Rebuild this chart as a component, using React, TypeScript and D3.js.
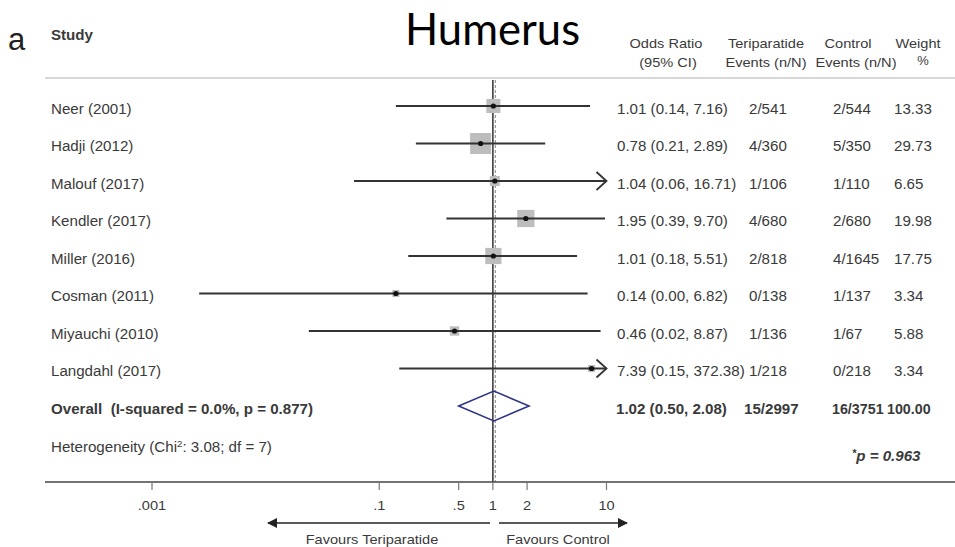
import React from "react";
import * as d3 from "d3";

// ---- data ----
const studies = [
  "Neer (2001)",
  "Hadji (2012)",
  "Malouf (2017)",
  "Kendler (2017)",
  "Miller (2016)",
  "Cosman (2011)",
  "Miyauchi (2010)",
  "Langdahl (2017)",
];
const oddsRatios = [1.01, 0.78, 1.04, 1.95, 1.01, 0.14, 0.46, 7.39];
const ciLower = [0.14, 0.21, 0.06, 0.39, 0.18, 0.0026, 0.024, 0.15];
const ciUpper = [7.16, 2.89, 16.71, 9.7, 5.51, 6.82, 8.87, 372.38];
const teriparatideEvents = ["2/541", "4/360", "1/106", "4/680", "2/818", "0/138", "1/136", "1/218"];
const controlEvents = ["2/544", "5/350", "1/110", "2/680", "4/1645", "1/137", "1/67", "0/218"];
const weights = [13.33, 29.73, 6.65, 19.98, 17.75, 3.34, 5.88, 3.34];

const overallOR = 1.02;
const overallLower = 0.5;
const overallUpper = 2.08;
const overallTeriparatide = "15/2997";
const overallControl = "16/3751";
const overallWeight = 100;

const tickValues = [0.001, 0.1, 0.5, 1, 2, 10];
const tickLabels = [".001", ".1", ".5", "1", "2", "10"];

// ---- layout ----
const W = 955;
const H = 547;
const SX = 1.08; // horizontal stretch applied to table text
const FONT = "'Liberation Sans', Arial, sans-serif";
const TEXT = "#3a3a3a";

const x = d3.scaleLog().domain([0.001, 10]).range([152, 606.5]);
const rowY = d3.scaleLinear().domain([0, 1]).range([106, 143.5]);

const fmt = (v: number) => v.toFixed(2);

type TProps = {
  x: number;
  y: number;
  children: React.ReactNode;
  size?: number;
  weight?: string | number;
  anchor?: "start" | "middle" | "end";
  italic?: boolean;
  fill?: string;
  sx?: number;
};

function T({ x, y, children, size = 14, weight = "normal", anchor = "start", italic, fill = TEXT, sx = SX }: TProps) {
  return (
    <text
      transform={`translate(${x},${y}) scale(${sx},1)`}
      fontFamily={FONT}
      fontSize={size}
      fontWeight={weight}
      fontStyle={italic ? "italic" : "normal"}
      textAnchor={anchor}
      fill={fill}
      style={{ whiteSpace: "pre" }}
    >
      {children}
    </text>
  );
}

export default function App() {
  const xMin = x.domain()[0];
  const xMax = x.domain()[1];
  const boxSide = (w: number) => 3.85 * Math.sqrt(w);
  const axisY = 482;
  const arrowY = 523;
  const overallY = rowY(8);

  return (
    <svg
      width={W}
      height={H}
      viewBox={`0 0 ${W} ${H}`}
      style={{ position: "absolute", left: 0, top: 0, background: "#fff" }}
    >
      <defs>
        <marker id="favHead" viewBox="0 0 10 10" refX="9" refY="5" markerWidth="10" markerHeight="10" markerUnits="userSpaceOnUse" orient="auto">
          <path d="M0,0 L10,5 L0,10 Z" fill="#222" />
        </marker>
      </defs>

      {/* panel letter and title */}
      <text x={8} y={50} fontFamily={FONT} fontSize={31} fill="#222">a</text>
      <text x={405} y={45} fontFamily="Lato, 'Open Sans', sans-serif" fontSize={45} fill="#000" textLength={175} lengthAdjust="spacingAndGlyphs">
        Humerus
      </text>

      {/* column headers */}
      <T x={51} y={40} weight="bold" size={14}>Study</T>
      <T x={666} y={48} anchor="middle" size={13.5}>Odds Ratio</T>
      <T x={668} y={67} anchor="middle" size={13.5}>(95% CI)</T>
      <T x={766} y={48} anchor="middle" size={13.5}>Teriparatide</T>
      <T x={766} y={67} anchor="middle" size={13.5}>Events (n/N)</T>
      <T x={848} y={48} anchor="middle" size={13.5}>Control</T>
      <T x={856} y={67} anchor="middle" size={13.5}>Events (n/N)</T>
      <T x={918} y={48} anchor="middle" size={13.5}>Weight</T>
      <T x={923} y={65} anchor="middle" size={12}>%</T>

      <line x1={45} x2={W} y1={78} y2={78} stroke="#c8c8c8" strokeWidth={1.5} />

      {/* reference line at OR = 1 and dashed line at the pooled estimate */}
      <line x1={x(1)} x2={x(1)} y1={80} y2={axisY} stroke="#333" strokeWidth={1.5} />
      <line x1={x(overallOR) + 1.5} x2={x(overallOR) + 1.5} y1={80} y2={axisY} stroke="#999" strokeWidth={1.2} strokeDasharray="3,2" />

      {/* study rows */}
      {studies.map((name, i) => {
        const y = rowY(i);
        const lo = Math.max(ciLower[i], xMin);
        const hi = Math.min(ciUpper[i], xMax);
        const clippedHi = ciUpper[i] > xMax;
        const s = boxSide(weights[i]);
        const cx = x(oddsRatios[i]);
        return (
          <g key={name}>
            <T x={51} y={y + 7.5}>{name}</T>
            <rect x={cx - s / 2} y={y - s / 2} width={s} height={s} fill="#bdbdbd" />
            <line x1={x(lo)} x2={x(hi)} y1={y} y2={y} stroke="#333" strokeWidth={1.8} />
            {clippedHi && (
              <path
                d={`M${x(hi) - 10},${y - 9} L${x(hi)},${y} L${x(hi) - 10},${y + 9}`}
                fill="none"
                stroke="#333"
                strokeWidth={1.8}
              />
            )}
            <circle cx={cx} cy={y} r={2.6} fill="#111" />
            <T x={617} y={y + 7.5}>{`${fmt(oddsRatios[i])} (${fmt(ciLower[i])}, ${fmt(ciUpper[i])})`}</T>
            <T x={749} y={y + 7.5}>{teriparatideEvents[i]}</T>
            <T x={833} y={y + 7.5}>{controlEvents[i]}</T>
            <T x={894} y={y + 7.5}>{fmt(weights[i])}</T>
          </g>
        );
      })}

      {/* overall row */}
      <T x={51} y={overallY + 7.5} weight="bold">{"Overall  (I-squared = 0.0%, p = 0.877)"}</T>
      <path
        d={`M${x(overallLower)},${overallY} L${x(overallOR)},${overallY - 15} L${x(overallUpper)},${overallY} L${x(overallOR)},${overallY + 15} Z`}
        fill="none"
        stroke="#2e3586"
        strokeWidth={1.6}
      />
      <T x={616} y={overallY + 7.5} weight="bold">{`${fmt(overallOR)} (${fmt(overallLower)}, ${fmt(overallUpper)})`}</T>
      <T x={744} y={overallY + 7.5} weight="bold">{overallTeriparatide}</T>
      <T x={832} y={overallY + 7.5} weight="bold" size={14} sx={1.02}>{overallControl}</T>
      <T x={887} y={overallY + 7.5} weight="bold" size={14} sx={1.02}>{fmt(overallWeight)}</T>

      {/* heterogeneity and test */}
      <T x={51} y={452}>
        Heterogeneity (Chi<tspan dy={-5} fontSize={9}>2</tspan><tspan dy={5}>: 3.08; df = 7)</tspan>
      </T>
      <T x={852} y={461} weight="bold" italic size={14}>
        <tspan fontSize={10} dy={-4}>*</tspan><tspan dy={4}>p = 0.963</tspan>
      </T>

      {/* x axis */}
      <line x1={45} x2={W} y1={axisY} y2={axisY} stroke="#444" strokeWidth={1.5} />
      {tickValues.map((v, i) => (
        <g key={tickLabels[i]}>
          <line x1={x(v)} x2={x(v)} y1={axisY} y2={axisY + 8} stroke="#777" strokeWidth={1.2} />
          <T x={x(v)} y={axisY + 28} anchor="middle" size={13.5}>{tickLabels[i]}</T>
        </g>
      ))}

      {/* favours arrows */}
      <line x1={490} x2={268} y1={arrowY} y2={arrowY} stroke="#222" strokeWidth={1.6} markerEnd="url(#favHead)" />
      <line x1={499} x2={627} y1={arrowY} y2={arrowY} stroke="#222" strokeWidth={1.6} markerEnd="url(#favHead)" />
      <T x={372} y={544} anchor="middle" size={13.5}>Favours Teriparatide</T>
      <T x={558} y={544} anchor="middle" size={13.5}>Favours Control</T>
    </svg>
  );
}
